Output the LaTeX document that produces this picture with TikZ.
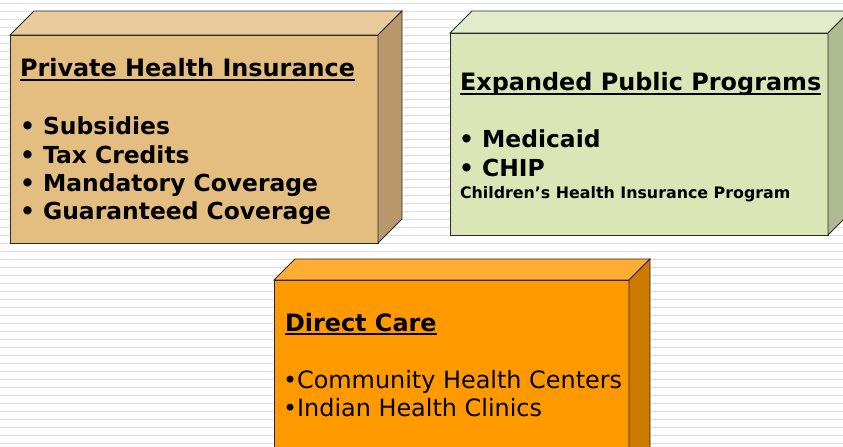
\documentclass[tikz,border=0pt]{standalone}
\usepackage{fontspec}
\setmainfont{DejaVu Sans}
\definecolor{privfront}{HTML}{E4BD80}
\definecolor{privtop}{HTML}{E9CA9B}
\definecolor{privside}{HTML}{B8976A}
\definecolor{pubfront}{HTML}{DBE6B6}
\definecolor{pubtop}{HTML}{E3ECCA}
\definecolor{pubside}{HTML}{AEBA90}
\definecolor{dirfront}{HTML}{FF9900}
\definecolor{dirtop}{HTML}{FFAD33}
\definecolor{dirside}{HTML}{CC7A00}
\definecolor{stripegray}{HTML}{DDDDDD}
\definecolor{edgegray}{HTML}{2A2A2A}

\begin{document}
\begin{tikzpicture}[
    x=1bp, y=-1bp,
    stripe/.style={draw=stripegray, line width=1.4bp},
    face/.style={draw=edgegray, line width=0.9bp, line join=miter},
    frontface/.style={face, rectangle, inner sep=0pt, outer sep=0pt, anchor=north west},
    txt/.style={anchor=base west, inner sep=0pt, outer sep=0pt},
    head/.style={txt, font=\fontsize{24}{28}\selectfont\bfseries},
    bigitem/.style={txt, font=\fontsize{23.5}{28}\selectfont\bfseries},
    smallitem/.style={txt, font=\fontsize{15.9}{18}\selectfont\bfseries},
    plainitem/.style={txt, font=\fontsize{24}{28}\selectfont},
    uline/.style={line width=1.9bp}
]
    \useasboundingbox (0,0) rectangle (843,447);
    \clip (0,0) rectangle (843,447);
    \fill[white] (0,0) rectangle (843,447);
    \foreach \k in {0,...,55}
        \draw[stripe] (0,{3.5+8*\k}) -- (843,{3.5+8*\k});

    \node[frontface, fill=privfront, minimum width=368bp, minimum height=208bp] (priv) at (10,35) {};
    \node[frontface, fill=pubfront, minimum width=378bp, minimum height=202bp] (pub) at (450,33) {};
    \node[frontface, fill=dirfront, minimum width=355bp, minimum height=190bp] (dir) at (274,280) {};
    \foreach \n/\d in {priv/24, pub/22, dir/21} {
        \filldraw[face, fill=\n top] (\n.north west) -- ([shift={(\d,-\d)}]\n.north west)
            -- ([shift={(\d,-\d)}]\n.north east) -- (\n.north east) -- cycle;
        \filldraw[face, fill=\n side] (\n.north east) -- ([shift={(\d,-\d)}]\n.north east)
            -- ([shift={(\d,-\d)}]\n.south east) -- (\n.south east) -- cycle;
    }

    \node[head] (privhead) at (20,77) {Private Health Insurance};
    \node[bigitem] (subs) at (20,135) {• Subsidies};
    \node[bigitem] (tax) at (20,163.3) {• Tax Credits};
    \node[bigitem] (mand) at (20,191.7) {• Mandatory Coverage};
    \node[bigitem] (guar) at (20,220) {• Guaranteed Coverage};

    \node[head] (pubhead) at (460,91) {Expanded Public Programs};
    \node[bigitem] (medi) at (459,147.7) {• Medicaid};
    \node[bigitem] (chip) at (459,176.7) {• CHIP};
    \node[smallitem] (chipname) at (460,198.3) {Children’s Health Insurance Program};

    \node[head] (dirhead) at (285,331.7) {Direct Care};
    \node[plainitem] (chc) at (283,388.3) {•Community Health Centers};
    \node[plainitem] (ihc) at (283,416.7) {•Indian Health Clinics};

    \foreach \h in {privhead, pubhead, dirhead}
        \draw[uline] ([yshift=-2.6bp]\h.base west) -- ([yshift=-2.6bp]\h.base east);
\end{tikzpicture}
\end{document}
